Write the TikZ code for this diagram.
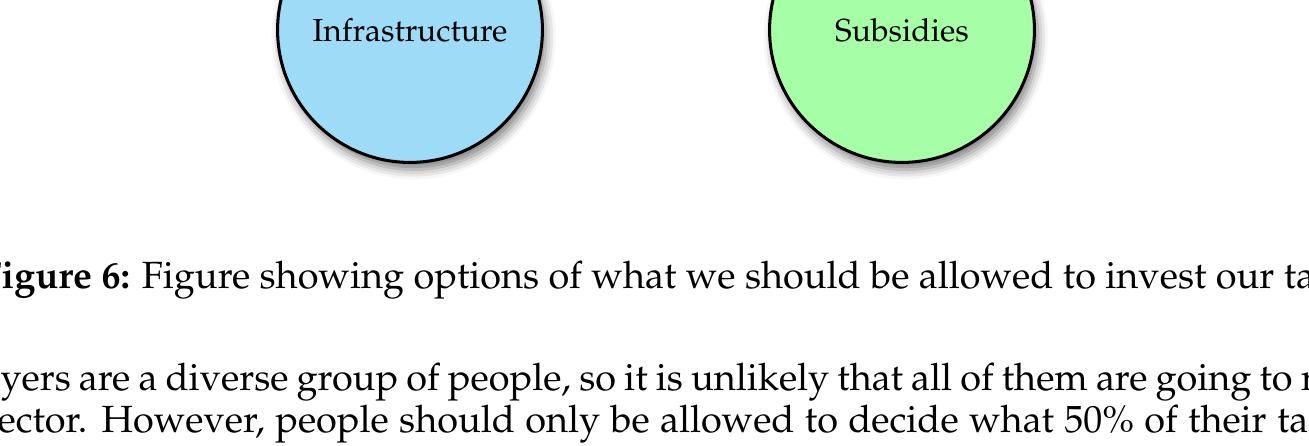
\documentclass[tikz,border=0pt]{standalone}
\usepackage[T1]{fontenc}
\usepackage{mathpazo}
\usetikzlibrary{shadows.blur}
\definecolor{infrablue}{RGB}{157,219,247}
\definecolor{subsgreen}{RGB}{166,255,166}
\begin{document}
\begin{tikzpicture}[x=0.33pt,y=-0.33pt,
  option/.style={circle,draw=black,line width=1pt,minimum size=87.4pt,inner sep=0pt,
    font=\fontsize{10.5}{12.5}\selectfont,
    blur shadow={shadow xshift=1.2pt,shadow yshift=-2.4pt,shadow blur radius=3.2pt,shadow opacity=50}},
  textline/.style={anchor=base west,inner sep=0pt,font=\fontsize{12.5}{15}\selectfont}]
\useasboundingbox (0,0) rectangle (1309,446);
\clip (0,0) rectangle (1309,446);
% the two investment options
\node[option,fill=infrablue] (infra) at (410,30) {Infrastructure};
\node[option,fill=subsgreen] (subs) at (902,30) {Subsidies};
% caption and the justified running text below it
\node[textline] (caption) at (-20,289) {\textbf{Figure 6:} Figure showing options of what we should be allowed to invest our taxes};
\node[textline] (lineA) at (0,390) {\makebox[434pt][s]{yers are a diverse group of people, so it is unlikely that all of them are going to r}};
\node[textline] (lineB) at (-3,432) {\makebox[439pt][s]{ector. However, people should only be allowed to decide what 50\% of their tax}};
\end{tikzpicture}
\end{document}
